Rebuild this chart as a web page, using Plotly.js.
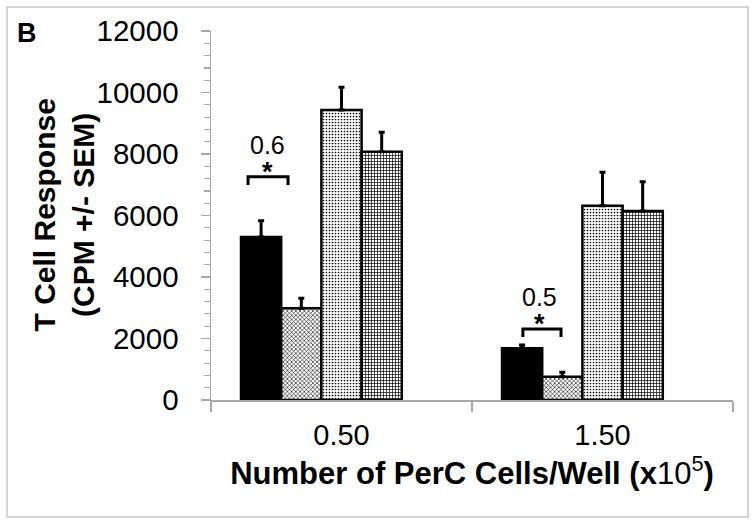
<!DOCTYPE html>
<html>
<head>
<meta charset="utf-8">
<script src="https://cdn.plot.ly/plotly-3.0.1.min.js"></script>
<style>html,body{margin:0;padding:0;background:#fff;}#chart{width:754px;height:520px;}</style>
</head>
<body>
<div id="chart"></div>
<script>
// Categories (PerC cells/well x10^5)
const categories = ["0.50", "1.50"];
// Series values (CPM) and SEM
const seriesA = [5300, 1680];
const seriesAErr = [530, 110];
const seriesB = [2980, 760];
const seriesBErr = [330, 140];
const seriesC = [9430, 6320];
const seriesCErr = [740, 1090];
const seriesD = [8075, 6150];
const seriesDErr = [630, 950];
const seriesEmpty = [0, 0]; // hidden 5th series slot
// Y ticks
const yTickVals = [0, 2000, 4000, 6000, 8000, 10000, 12000];
// Significance annotations
const sigLabels = ["0.6", "0.5"];
const sigX0 = [-0.358, 0.695];
const sigX1 = [-0.205, 0.841];
const sigYBar = [7262, 2309];
const sigYEnd = [6992, 2049];
const sigTextX = [-0.282, 0.76];
const sigTextY = [8293, 3350];
const sigStarY = [7420, 2470];

const FONT = "Liberation Sans, Arial, sans-serif";

function errCfg(arr) {
  return {type: 'data', symmetric: false, array: arr, arrayminus: [0, 0],
          color: '#000', thickness: 3, width: 3};
}
const lineCfg = {color: '#000', width: 2.5};

const traces = [
  {type: 'bar', x: categories, y: seriesA, error_y: errCfg(seriesAErr),
   marker: {color: '#000', line: lineCfg}, hoverinfo: 'skip'},
  {type: 'bar', x: categories, y: seriesB, error_y: errCfg(seriesBErr),
   marker: {color: '#fff', line: lineCfg,
            pattern: {shape: 'x', fgcolor: '#000', bgcolor: '#fff', size: 3, solidity: 0.35}}, hoverinfo: 'skip'},
  {type: 'bar', x: categories, y: seriesC, error_y: errCfg(seriesCErr),
   marker: {color: '#fff', line: lineCfg,
            pattern: {shape: '.', fgcolor: '#000', bgcolor: '#fff', size: 3, solidity: 0.25}}, hoverinfo: 'skip'},
  {type: 'bar', x: categories, y: seriesD, error_y: errCfg(seriesDErr),
   marker: {color: '#fff', line: lineCfg,
            pattern: {shape: '+', fgcolor: '#000', bgcolor: '#fff', size: 3, solidity: 0.4}}, hoverinfo: 'skip'},
  {type: 'bar', x: categories, y: seriesEmpty,
   marker: {color: 'rgba(0,0,0,0)', line: {width: 0}}, hoverinfo: 'skip'}
];

const shapes = [];
const annotations = [];
for (let i = 0; i < sigLabels.length; i++) {
  shapes.push({type: 'path', xref: 'x', yref: 'y',
    path: `M ${sigX0[i]},${sigYEnd[i]} L ${sigX0[i]},${sigYBar[i]} L ${sigX1[i]},${sigYBar[i]} L ${sigX1[i]},${sigYEnd[i]}`,
    line: {color: '#000', width: 3}});
  annotations.push({x: sigTextX[i], y: sigTextY[i], xref: 'x', yref: 'y', text: sigLabels[i],
    xanchor: 'center', yanchor: 'middle',
    showarrow: false, font: {family: FONT, size: 25, color: '#000'}});
  annotations.push({x: sigTextX[i], y: sigStarY[i], xref: 'x', yref: 'y', text: '<b>*</b>',
    xanchor: 'center', yanchor: 'middle',
    showarrow: false, font: {family: FONT, size: 27, color: '#000'}});
}
annotations.push({x: -0.3525, y: 0.9946, xref: 'paper', yref: 'paper', text: '<b>B</b>',
  xanchor: 'center', yanchor: 'middle',
  showarrow: false, font: {family: FONT, size: 27, color: '#000'}});
// y-axis title (two lines, rotated)
annotations.push({x: -0.2835, y: 0.5, xref: 'paper', yref: 'paper', textangle: -90,
  xanchor: 'center', yanchor: 'middle',
  text: '<b>T Cell Response</b><br><b>(CPM +/- SEM)</b>', showarrow: false,
  font: {family: FONT, size: 30, color: '#000'}});
// outer frame
shapes.push({type: 'rect', xref: 'paper', yref: 'paper', x0: -0.3908, x1: 1.0287, y0: -0.317, y1: 1.065,
  line: {color: '#c8c8c8', width: 1.5}});

const layout = {
  width: 754, height: 520,
  margin: {l: 211, r: 21, t: 31, b: 120},
  paper_bgcolor: '#fff', plot_bgcolor: '#fff',
  barmode: 'group', bargap: 0.23, bargroupgap: 0,
  showlegend: false,
  font: {family: FONT, color: '#000'},
  xaxis: {
    type: 'category', range: [-0.5, 1.5], showgrid: false, zeroline: false,
    showline: true, linecolor: '#a8a8a8', linewidth: 1.5,
    ticks: 'outside', tickson: 'boundaries', ticklen: 10, tickcolor: '#a8a8a8', tickwidth: 1.5,
    ticklabelstandoff: 9,
    tickfont: {family: FONT, size: 29, color: '#000'},
    title: {text: '<b>Number of PerC Cells/Well (x</b>10<sup>5</sup><b>)</b>',
            font: {family: FONT, size: 31, color: '#000'}, standoff: 10}
  },
  yaxis: {
    range: [0, 12000], tickvals: yTickVals, ticktext: yTickVals.map(String),
    showgrid: false, zeroline: false,
    showline: true, linecolor: '#a8a8a8', linewidth: 1.5,
    ticks: 'outside', ticklen: 9, tickcolor: '#a8a8a8', tickwidth: 1.5,
    minor: {dtick: 400, ticks: 'outside', ticklen: 6, tickcolor: '#a8a8a8', tickwidth: 1.2},
    ticklabelstandoff: 16,
    tickfont: {family: FONT, size: 29.5, color: '#000'}
  },
  shapes: shapes,
  annotations: annotations
};

Plotly.newPlot('chart', traces, layout, {displayModeBar: false, staticPlot: true});
</script>
</body>
</html>
